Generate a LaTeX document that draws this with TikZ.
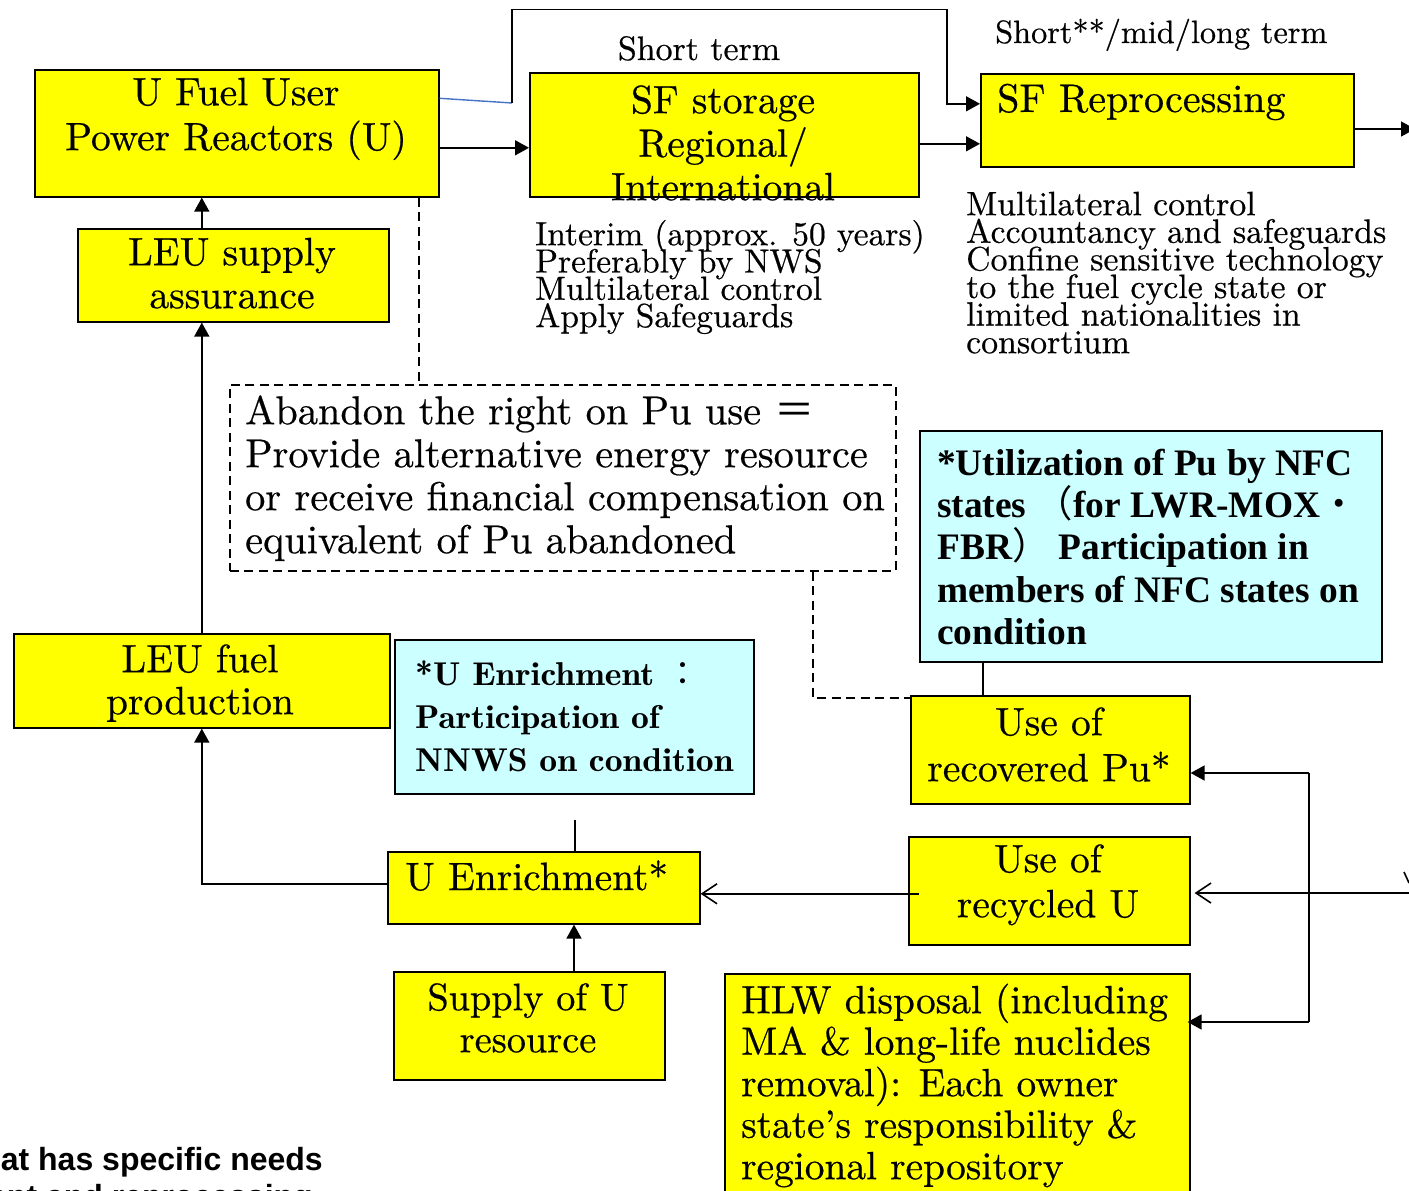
\documentclass[tikz,border=0pt]{standalone}
\usepackage{fontspec}
\setmainfont{lmroman10-regular.otf}[FakeBold=0.5]
\newfontfamily\demi{lmromandemi10-regular.otf}[FakeStretch=1.08]
\newfontfamily\cjk{Noto Sans CJK JP}
\newfontfamily\timesf{Liberation Serif}
\newfontfamily\arialf{Liberation Sans}
\usetikzlibrary{arrows.meta}
\definecolor{ylw}{RGB}{255,255,0}
\definecolor{cyn}{RGB}{204,255,255}
\definecolor{blueln}{RGB}{68,114,196}
\newcommand\ts{\rule{0pt}{32pt}}
\newcommand\fsz[2]{\fontsize{#1}{#2}\selectfont\lineskiplimit=-100pt\lineskip=0pt}
\tikzset{
  ybox/.style={draw=black, line width=1.6pt, fill=ylw, anchor=north west, inner sep=0pt},
  cbox/.style={draw=black, line width=1.6pt, fill=cyn, anchor=north west, inner sep=0pt},
  dbox/.style={draw=black, line width=1.6pt, dash pattern=on 9pt off 5.5pt, anchor=north west, inner sep=0pt},
  btxt/.style={inner sep=0pt, font=\fsz{39.5}{45}},
  ntxt/.style={inner sep=0pt, font=\fsz{33.5}{27.5}, align=left, anchor=north west},
  conn/.style={draw=black, line width=1.6pt},
  dconn/.style={draw=black, line width=1.6pt, dash pattern=on 9pt off 5.5pt},
  tip/.style={-{Triangle[length=14pt,width=15pt]}},
  otip/.style={-{Straight Barb[length=15pt,width=20pt,line width=1.6pt]}},
}
\begin{document}
\begin{tikzpicture}[x=1pt,y=-1pt]
\useasboundingbox (0,0) rectangle (1409,1191);
\clip (0,0) rectangle (1409,1191);

% boxes
\node[ybox, minimum width=404, minimum height=127] (fuel) at (34,69) {};
\node[ybox, minimum width=311, minimum height=93] (leus) at (77,228) {};
\node[ybox, minimum width=389, minimum height=124] (sfs) at (529,72) {};
\node[ybox, minimum width=373, minimum height=93] (sfr) at (980,73) {};
\node[dbox, minimum width=666, minimum height=186] (dash) at (229,384) {};
\node[cbox, minimum width=462, minimum height=231] (nfc) at (919,430) {};
\node[ybox, minimum width=279, minimum height=108] (rpu) at (910,695) {};
\node[ybox, minimum width=376, minimum height=94] (leuf) at (13,633) {};
\node[cbox, minimum width=359, minimum height=154] (uenc) at (394,639) {};
\node[ybox, minimum width=312, minimum height=72] (uen) at (387,851) {};
\node[ybox, minimum width=271, minimum height=108] (sup) at (393,971) {};
\node[ybox, minimum width=281, minimum height=108] (ruu) at (908,836) {};
\node[ybox, minimum width=465, minimum height=260] (hlw) at (724,973) {};

% texts
\node[btxt, align=center, anchor=north] (fuelT) at (236,73) {\ts U Fuel User\\Power Reactors (U)};
\node[btxt, align=center, anchor=north, font=\fsz{39.5}{43}] (leusT) at (232,233) {\ts LEU supply\\assurance};
\node[btxt, align=center, anchor=north, font=\fsz{39.5}{43.5}] (sfsT) at (723,81) {\ts SF storage\\Regional/\\International};
\node[btxt, anchor=base west, font=\fsz{40}{45}] (sfrT) at (997,112) {SF Reprocessing};
\node[inner sep=0pt, font=\fsz{33.9}{40}, anchor=base] (shortT) at (699,60) {Short term};
\node[inner sep=0pt, font=\fsz{32.3}{40}, anchor=base west] (short2T) at (995,43) {Short**/mid/long term};
\node[ntxt, font=\fsz{33.5}{27.3}] (notes1) at (535,213) {\ts Interim (approx. 50 years)\\Preferably by NWS\\Multilateral control\\Apply Safeguards};
\node[ntxt, font=\fsz{33.8}{27.6}] (notes2) at (966,183) {\ts Multilateral control\\Accountancy and safeguards\\Confine sensitive technology\\to the fuel cycle state or\\limited nationalities in\\consortium};
\node[inner sep=0pt, font=\fsz{40.3}{43}, align=left, anchor=north west] (dashT) at (245,392) {\ts Abandon the right on Pu use {\cjk ＝}\\Provide alternative energy resource\\or receive financial compensation on\\equivalent of Pu abandoned};
\node[inner sep=0pt, font=\fsz{37.4}{42.3}\timesf\bfseries, align=left, anchor=north west] (nfcT) at (937,443) {\ts *Utilization of Pu by NFC\\states {\cjk\mdseries （}for LWR-MOX{\cjk\mdseries ・}\\FBR{\cjk\mdseries ）} Participation in\\members of NFC states on\\condition};
\node[btxt, align=center, anchor=north, font=\fsz{39.5}{46}] (rpuT) at (1049,703) {\ts Use of\\recovered Pu*};
\node[btxt, align=center, anchor=north, font=\fsz{39.5}{42}] (leufT) at (200,640) {\ts LEU fuel\\production};
\node[inner sep=0pt, font=\fsz{33}{43}\demi, align=left, anchor=north west] (uencT) at (415,653) {\ts *U Enrichment {\cjk ：}\\Participation of\\NNWS on condition};
\node[btxt, anchor=base west] (uenT) at (405,890) {U Enrichment*};
\node[btxt, align=center, anchor=north, font=\fsz{38.3}{42}] (supT) at (528,978) {\ts Supply of U\\resource};
\node[btxt, align=center, anchor=north, font=\fsz{39.5}{45}] (ruuT) at (1048,840) {\ts Use of\\recycled U};
\node[inner sep=0pt, font=\fsz{39.4}{41.5}, align=left, anchor=north west] (hlwT) at (741,981) {\ts HLW disposal (including\\MA \& long-life nuclides\\removal): Each owner\\state’s responsibility \&\\regional repository};
\node[inner sep=0pt, font=\fsz{32}{37}\arialf\bfseries, anchor=base east] (bl1) at (323,1170) {hat has specific needs};
\node[inner sep=0pt, font=\fsz{32}{37}\arialf\bfseries, anchor=base east] (bl2) at (313,1207) {ent and reprocessing};

% connectors
\draw[conn,tip] (leus.north -| leuf.north) -- (fuel.south -| leuf.north);
\draw[conn,tip] (leuf.north) -- (leus.south -| leuf.north);
\draw[conn,tip] ([yshift=-14.5pt]fuel.east) -- ([yshift=-14.5pt]fuel.east -| sfs.west);
\coordinate (bend) at (512,103);
\coordinate (topl) at (512,9.5);
\coordinate (topr) at (947,9.5);
\draw[line width=1.4pt, blueln] ([yshift=35pt]fuel.east) -- (bend);
\draw[conn,tip] (bend) -- (topl) -- (topr) |- ([yshift=16.5pt]sfr.west);
\draw[conn,tip] ([yshift=-9pt]sfs.east) -- ([yshift=-9pt]sfs.east -| sfr.west);
\coordinate (redge) at (1415,129);
\draw[conn,tip] (redge -| sfr.east) -- (redge);
\coordinate (dx1) at (419,0);
\draw[dconn] (fuel.south -| dx1) -- (dash.north -| dx1);
\coordinate (dx2) at (813,0);
\draw[dconn] (dash.south -| dx2) |- ([yshift=-3pt]rpu.north west);
\coordinate (cx) at (983,0);
\draw[conn] (nfc.south -| cx) -- (rpu.north -| cx);
\draw[conn,tip] ([yshift=4pt]uen.west) -| (leuf.south);
\coordinate (ux1) at (575,820);
\draw[conn] (ux1) -- (ux1 |- uen.north);
\coordinate (ux2) at (574,0);
\draw[conn,tip] (sup.north -| ux2) -- (uen.south -| ux2);
\draw[conn,otip] ([xshift=11pt,yshift=-3pt]ruu.west) -- ([yshift=-3pt]ruu.west -| uen.east);
\coordinate (v1) at (1309,773);
\coordinate (v2) at (1309,1022);
\draw[conn,tip] (v1) -- (v1 -| rpu.east);
\draw[conn] (v1) -- (v2);
\draw[conn,tip] (v2) -- ([xshift=-3pt]v2 -| hlw.east);
\coordinate (rin) at (1409,893);
\draw[conn,otip] (rin) -- ([xshift=4pt]rin -| ruu.east);
\coordinate (m1) at (1404,872);
\coordinate (m2) at (1409,883);
\draw[conn] (m1) -- (m2);
\end{tikzpicture}
\end{document}
